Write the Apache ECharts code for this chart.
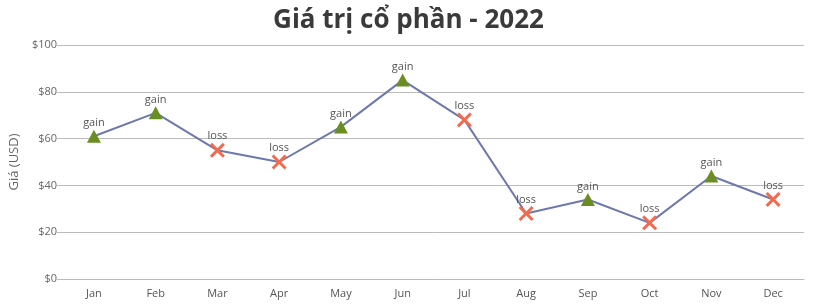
<!DOCTYPE html>
<html><head><meta charset="utf-8">
<script src="https://cdn.jsdelivr.net/npm/echarts@6/dist/echarts.min.js"></script>
<style>html,body{margin:0;padding:0;background:#fff}#c{width:817px;height:308px}</style>
</head><body><div id="c"></div>
<script>
const months = ['Jan','Feb','Mar','Apr','May','Jun','Jul','Aug','Sep','Oct','Nov','Dec'];
const prices = [61, 71, 55, 50, 65, 85, 68, 28, 34, 24, 44, 34];
const status = ['gain','gain','loss','loss','gain','gain','loss','loss','gain','loss','gain','loss'];

const crossPath = 'path://M0,1.4L1.4,0L5,3.6L8.6,0L10,1.4L6.4,5L10,8.6L8.6,10L5,6.4L1.4,10L0,8.6L3.6,5Z';
const chart = echarts.init(document.getElementById('c'));
const font = '"Open Sans", "DejaVu Sans", sans-serif';
chart.setOption({
  animation: false,
  title: { text: 'Giá trị cổ phần - 2022', left: 'center', top: 3,
    textStyle: { fontFamily: font, fontSize: 26, fontWeight: 'bold', color: '#3a3a3a' } },
  grid: { left: 62, right: 13, top: 45, bottom: 29 },
  xAxis: { type: 'category', data: months, boundaryGap: true,
    axisLine: { lineStyle: { color: '#bbb' } },
    axisTick: { alignWithLabel: true, length: 5, lineStyle: { color: '#bbb' } },
    axisLabel: { color: '#555', fontFamily: font, fontSize: 11, margin: 9 } },
  yAxis: { type: 'value', min: 0, max: 100, interval: 20,
    name: 'Giá (USD)', nameLocation: 'middle', nameGap: 38,
    nameTextStyle: { color: '#666', fontFamily: font, fontSize: 13 },
    axisLine: { show: false },
    axisTick: { show: true, length: 6, lineStyle: { color: '#bbb' } },
    axisLabel: { color: '#666', fontFamily: font, fontSize: 11, margin: 6, formatter: v => '$' + v },
    splitLine: { lineStyle: { color: '#bbb' } } },
  series: [{
    type: 'line',
    data: prices.map((v, i) => ({
      value: v,
      symbol: status[i] === 'gain' ? 'triangle' : crossPath,
      symbolSize: status[i] === 'gain' ? [14, 13] : 15,
      itemStyle: { color: status[i] === 'gain' ? '#6b8e23' : '#f36a4c', borderWidth: 0 },
      label: { formatter: status[i] }
    })),
    showAllSymbol: true,
    lineStyle: { color: '#6d78ad', width: 2 },
    label: { show: true, position: 'top', distance: 1, color: '#555', fontFamily: font, fontSize: 11 }
  }]
});
</script></body></html>
